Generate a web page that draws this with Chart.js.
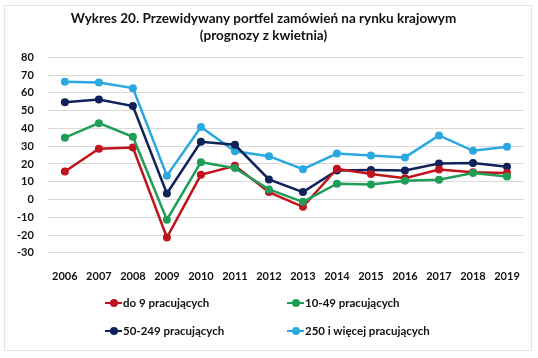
<!DOCTYPE html>
<html>
<head>
<meta charset="utf-8">
<script src="https://cdn.jsdelivr.net/npm/chart.js@4"></script>
<style>
  html, body { margin: 0; padding: 0; background: #fff; }
  #wrap { position: relative; width: 538px; height: 358px; }
  #frame { position: absolute; left: 4px; top: 5px; width: 528px; height: 346px; border: 1px solid #e4e4e4; box-sizing: border-box; pointer-events: none; }
  #legend { position: absolute; left: 0; top: 296px; width: 538px; font-family: Lato, sans-serif; font-weight: bold; font-size: 11.5px; color: #111; }
  .item { position: absolute; display: flex; align-items: center; white-space: nowrap; }
  .mk { position: relative; width: 17px; height: 10px; margin-right: 1px; }
  .mk .ln { position: absolute; left: 0; right: 0; top: 4px; height: 2.5px; }
  .mk .dt { position: absolute; left: 5px; top: 1px; width: 8px; height: 8px; border-radius: 50%; }
</style>
</head>
<body>
<div id="wrap">
  <canvas id="c" width="538" height="358"></canvas>
  <div id="frame"></div>
  <div id="legend"></div>
</div>
<script>
const categories = ['2006','2007','2008','2009','2010','2011','2012','2013','2014','2015','2016','2017','2018','2019'];
const seriesNames = ['do 9 pracujących', '10-49 pracujących', '50-249 pracujących', '250 i więcej pracujących'];
const do9 =      [15.8, 28.6, 29.3, -21.4, 13.9, 19.0, 4.2, -4.1, 17.3, 14.3, 12.0, 16.9, 15.4, 14.9];
const p10_49 =   [34.8, 43.0, 35.3, -11.4, 21.0, 17.7, 5.7, -1.3, 8.9, 8.5, 10.5, 11.1, 14.9, 13.0];
const p50_249 =  [54.8, 56.3, 52.6, 3.4, 32.5, 30.8, 11.3, 4.2, 16.4, 16.6, 16.4, 20.3, 20.5, 18.4];
const p250 =     [66.3, 65.9, 62.7, 13.4, 40.8, 27.2, 24.4, 17.1, 25.9, 24.8, 23.7, 36.1, 27.4, 29.7];
const yTicks = [-30, -20, -10, 0, 10, 20, 30, 40, 50, 60, 70, 80];
const colors = ['#c0141c', '#1f9e57', '#10225a', '#2aa8df'];

const seriesData = [do9, p10_49, p50_249, p250];
const datasets = seriesData.map((d, i) => ({
  label: seriesNames[i],
  data: d,
  borderColor: colors[i],
  backgroundColor: colors[i],
  borderWidth: 2.5,
  pointRadius: 4,
  pointHoverRadius: 4,
  pointBorderWidth: 0,
  tension: 0,
  order: i === 3 ? 4 : (i === 2 ? 3 : (i === 1 ? 1 : 2))
}));

new Chart(document.getElementById('c'), {
  type: 'line',
  data: { labels: categories, datasets },
  options: {
    responsive: false,
    animation: false,
    devicePixelRatio: 1,
    layout: { padding: { left: 3, right: 14, top: 2, bottom: 66 } },
    plugins: {
      legend: { display: false },
      tooltip: { enabled: false },
      title: {
        display: true,
        text: ['Wykres 20. Przewidywany portfel zamówień na rynku krajowym', '(prognozy z kwietnia)'],
        font: { family: 'Lato', weight: 'bold', size: 13.5 },
        color: '#111',
        padding: { top: 9, bottom: 14 },
        lineHeight: 1.4
      }
    },
    scales: {
      x: {
        offset: true,
        grid: { display: false },
        border: { display: false },
        ticks: { font: { family: 'Lato', weight: 'bold', size: 11 }, color: '#111', maxRotation: 0, padding: 9 }
      },
      y: {
        min: -30, max: 80,
        afterBuildTicks: (axis) => { axis.ticks = yTicks.map(v => ({ value: v })); },
        grid: { color: '#d9d9d9', lineWidth: 1, drawTicks: false },
        border: { display: false },
        ticks: { font: { family: 'Lato', weight: 'bold', size: 11 }, color: '#111', padding: 14 }
      }
    }
  }
});

const legend = document.getElementById('legend');
const pos = [[105, 0], [287, 0], [105, 28], [287, 28]];
seriesNames.forEach((name, i) => {
  const it = document.createElement('div');
  it.className = 'item';
  it.style.left = pos[i][0] + 'px';
  it.style.top = pos[i][1] + 'px';
  it.innerHTML = '<span class="mk"><span class="ln" style="background:' + colors[i] + '"></span><span class="dt" style="background:' + colors[i] + '"></span></span><span>' + name + '</span>';
  legend.appendChild(it);
});
</script>
</body>
</html>
